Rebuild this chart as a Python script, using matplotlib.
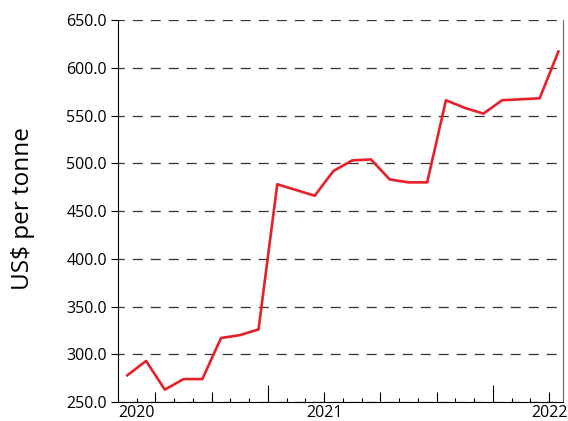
import numpy as np
import matplotlib
matplotlib.use('Agg')
import matplotlib.pyplot as plt

plt.rcParams['font.family'] = ['Open Sans', 'DejaVu Sans']

# ---------------------------- 数据 ---------------------------- #
# monthly prices, Dec 2019 .. Nov 2021 (US$ per tonne)
prices = [278, 293, 263, 274, 274, 317, 320, 326,
          478, 472, 466, 492, 503, 504, 483, 480,
          480, 566, 558, 552, 566, 567, 568, 617]
year_labels = ['2020', '2021', '2022']
year_pos = [0.5, 10.5, 22.5]          # month boundaries where the years sit
y_ticks = np.arange(250, 651, 50)

# ---------------------------- 绘图 ---------------------------- #
fig = plt.figure(figsize=(5.68, 4.21), dpi=100)
ax = fig.add_axes([0.2077, 0.0451, 0.7843, 0.9074])

months = np.arange(len(prices))
ax.plot(months, prices, color='#e8202a', linewidth=1.9, zorder=3)

ax.set_ylim(250, 650)
ax.set_xlim(-0.5, 23.27)
ax.set_yticks(y_ticks)
ax.set_yticklabels([f'{v:.1f}' for v in y_ticks], fontsize=11.5)
ax.yaxis.grid(True, color='#333333', linestyle=(3, (8, 6.4)), linewidth=0.9)
ax.set_axisbelow(True)

# month ticks between categories, longer every quarter / half-year
boundaries = np.arange(0.5, 23.0, 1.0)
major = [0.5, 1.5, 4.5, 7.5, 10.5, 13.5, 16.5, 19.5, 22.5]
ax.set_xticks(boundaries, minor=True)
ax.set_xticks(major)
ax.set_xticklabels([year_labels[year_pos.index(p)] if p in year_pos else '' for p in major],
                   fontsize=11.5)
ax.tick_params(axis='x', which='minor', direction='in', length=3, width=0.8)
ax.tick_params(axis='x', which='major', direction='in', length=7, width=0.8, pad=2.5)
for t, p in zip(ax.xaxis.get_major_ticks(), major):
    if p in (7.5, 19.5):
        t.tick1line.set_markersize(12)
    elif p == 0.5:
        t.tick1line.set_markersize(3)
ax.tick_params(axis='y', direction='out', length=5, width=0.8, pad=3)

ax.spines['top'].set_visible(False)
for s in ['left', 'bottom', 'right']:
    ax.spines[s].set_linewidth(0.8)
ax.spines['right'].set_color('#666666')

fig.text(0.04, 0.505, 'US$ per tonne', rotation=90, fontsize=17.5,
         ha='center', va='center')

plt.savefig('out.png', dpi=100)
plt.close()
